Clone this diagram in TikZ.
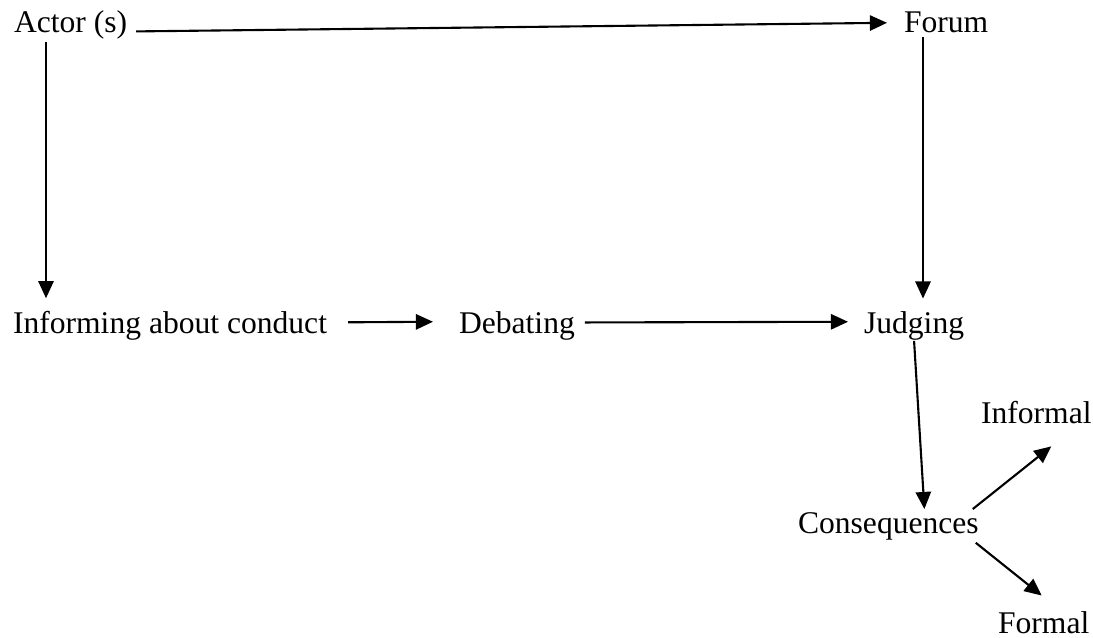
\documentclass[tikz,border=0pt]{standalone}
\usepackage{fontspec}
\setmainfont{Liberation Serif}
\usetikzlibrary{arrows.meta}
\begin{document}
\begin{tikzpicture}
    [x=0.38pt,y=-0.38pt,inner sep=0pt,anchor=base west,
     font=\fontsize{12}{14}\selectfont,line width=0.8pt,
     >={Triangle[length=6.5pt,width=5.8pt]}]
    \useasboundingbox (0, 0) rectangle (1093, 637);
    \node (actor) at (13, 32) {Actor (s)};
    \node (forum) at (903, 32) {Forum};
    \node (informing) at (12, 333) {Informing about conduct};
    \node (debating) at (458, 333) {Debating};
    \node (judging) at (863, 333) {Judging};
    \node (informal) at (980, 423) {Informal};
    \node (consequences) at (797, 533) {Consequences};
    \node (formal) at (997, 633) {Formal};
    \draw [->] ([shift={(8, 7)}]actor.east) to ([shift={(-16, 1)}]forum.west);
    \draw [->] ([shift={(33, 2)}]actor.south west) to ([shift={(34, -11.5)}]informing.north west);
    \draw [->] ([shift={(20, 4)}]forum.south west) to ([shift={(60, -11.5)}]judging.north west);
    \draw [->] ([shift={(20, -3)}]informing.east) to ([shift={(-25, -3.7)}]debating.west);
    \draw [->] ([shift={(9, -3)}]debating.east) to ([shift={(-15, -3.7)}]judging.west);
    \draw [->] (judging.south) to ([shift={(36, -2)}]consequences.north);
    \draw [->] ([shift={(-7, -2)}]consequences.north east) to ([shift={(15, 22)}]informal.south);
    \draw [->] ([shift={(-4, 2)}]consequences.south east) to ([shift={(-2, -14.5)}]formal.north);
  \end{tikzpicture}
\end{document}
